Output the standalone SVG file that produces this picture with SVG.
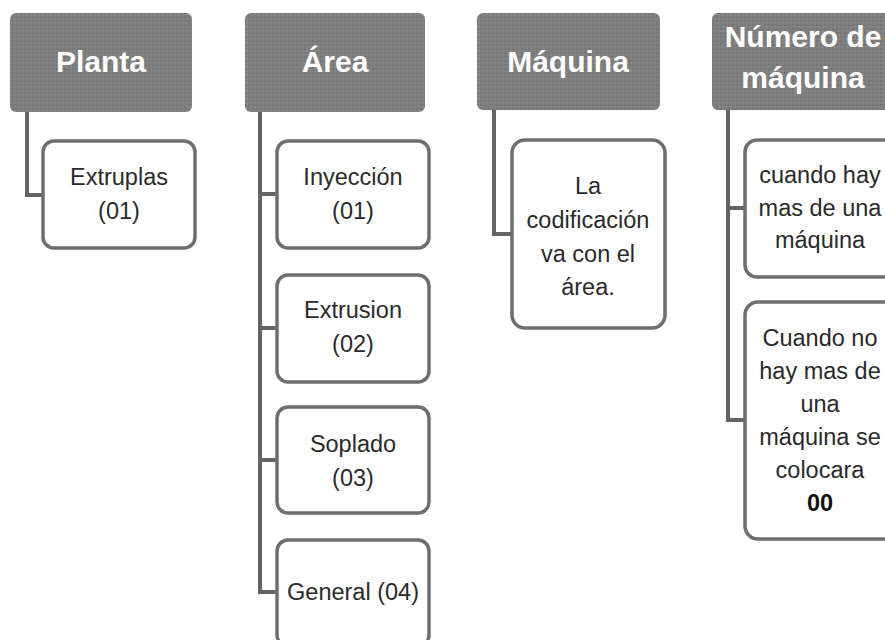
<svg xmlns="http://www.w3.org/2000/svg" width="885" height="640" viewBox="0 0 885 640">
  <defs>
    <!-- stippled grey fill for the column headers -->
    <pattern id="stipple" width="4" height="4" patternUnits="userSpaceOnUse">
      <rect width="4" height="4" fill="#7e7e7e"/>
      <circle cx="1" cy="1" r="0.7" fill="#6c6c6c"/>
      <circle cx="3" cy="3" r="0.7" fill="#8e8e8e"/>
    </pattern>
  </defs>
  <style>
    .head rect { fill: url(#stipple); }
    .head text { font-family: "Liberation Sans", Arial, sans-serif; font-size: 30px; font-weight: bold; fill: #ffffff; text-anchor: middle; }
    .item rect { fill: #ffffff; stroke: #6e6e6e; stroke-width: 3.5; }
    .item text { font-family: "Liberation Sans", Arial, sans-serif; font-size: 23.5px; fill: #2a2a2a; text-anchor: middle; }
    .item text .b { font-weight: bold; fill: #111111; }
    .links path { fill: none; stroke: #646464; stroke-width: 4; }
  </style>

  <rect width="885" height="640" fill="#ffffff"/>

  <!-- connectors -->
  <g id="connectors" class="links">
    <path d="M27 112 V195 H43"/>
    <path d="M260 112 V592 H277 M260 194 H277 M260 328 H277 M260 460 H277"/>
    <path d="M494 110 V234 H512"/>
    <path d="M728 110 V420 H745 M728 208 H745"/>
  </g>

  <!-- column 1 -->
  <g id="planta" class="head">
    <rect x="10" y="13" width="182" height="99" rx="6"/>
    <text x="101" y="72">Planta</text>
  </g>
  <g id="extruplas" class="item">
    <rect x="43" y="141" width="152" height="107" rx="11"/>
    <text x="119" y="185">Extruplas</text>
    <text x="119" y="219">(01)</text>
  </g>

  <!-- column 2 -->
  <g id="area" class="head">
    <rect x="245" y="13" width="180" height="99" rx="6"/>
    <text x="335" y="72">Área</text>
  </g>
  <g id="inyeccion" class="item">
    <rect x="277" y="141" width="152" height="107" rx="11"/>
    <text x="353" y="185">Inyección</text>
    <text x="353" y="219">(01)</text>
  </g>
  <g id="extrusion" class="item">
    <rect x="277" y="275" width="152" height="107" rx="11"/>
    <text x="353" y="318">Extrusion</text>
    <text x="353" y="352">(02)</text>
  </g>
  <g id="soplado" class="item">
    <rect x="277" y="407" width="152" height="106" rx="11"/>
    <text x="353" y="452">Soplado</text>
    <text x="353" y="486">(03)</text>
  </g>
  <g id="general" class="item">
    <rect x="277" y="540" width="152" height="106" rx="11"/>
    <text x="353" y="600">General (04)</text>
  </g>

  <!-- column 3 -->
  <g id="maquina" class="head">
    <rect x="477" y="13" width="183" height="97" rx="6"/>
    <text x="568" y="72">Máquina</text>
  </g>
  <g id="codificacion" class="item">
    <rect x="512" y="140" width="153" height="188" rx="13"/>
    <text x="588" y="194">La</text>
    <text x="588" y="228">codificación</text>
    <text x="588" y="262">va con el</text>
    <text x="588" y="295">área.</text>
  </g>

  <!-- column 4 -->
  <g id="numero" class="head">
    <rect x="712" y="13" width="182" height="97" rx="6"/>
    <text x="803" y="47">Número de</text>
    <text x="803" y="88">máquina</text>
  </g>
  <g id="varias" class="item">
    <rect x="745" y="140" width="152" height="137" rx="12"/>
    <text x="820" y="183">cuando hay</text>
    <text x="820" y="216">mas de una</text>
    <text x="820" y="248">máquina</text>
  </g>
  <g id="unica" class="item">
    <rect x="745" y="302" width="152" height="237" rx="13"/>
    <text x="820" y="346">Cuando no</text>
    <text x="820" y="379">hay mas de</text>
    <text x="820" y="412">una</text>
    <text x="820" y="445">máquina se</text>
    <text x="820" y="478">colocara</text>
    <text x="820" y="511"><tspan class="b">00</tspan></text>
  </g>
</svg>
